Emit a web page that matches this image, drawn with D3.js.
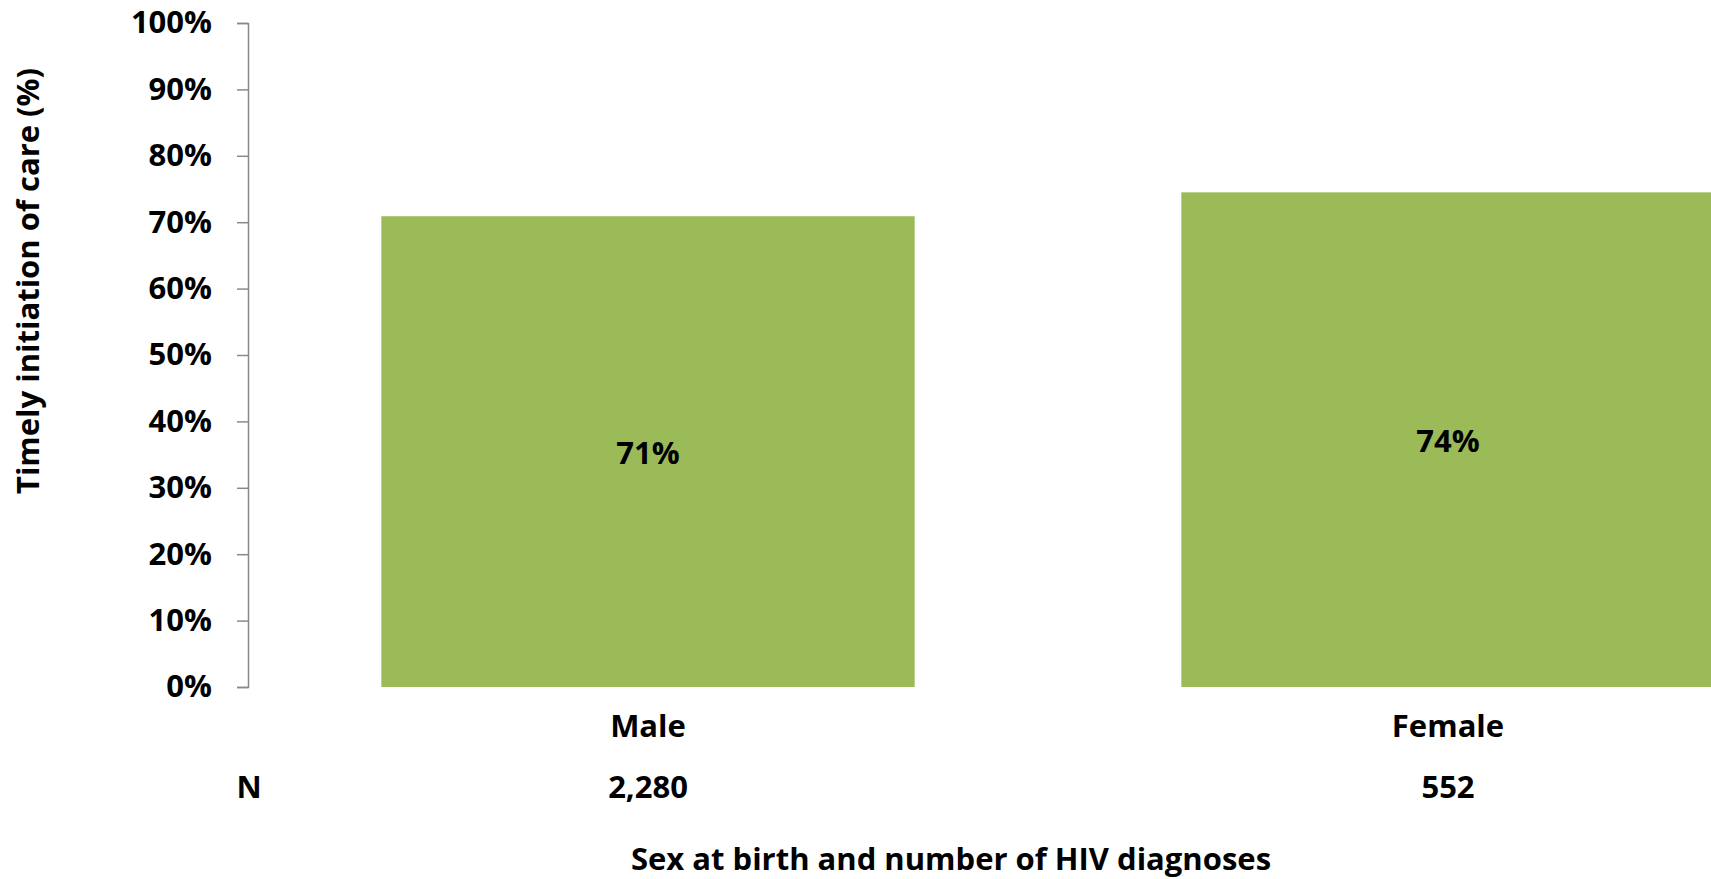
<!DOCTYPE html>
<html>
<head>
<meta charset="utf-8">
<script src="https://cdn.jsdelivr.net/npm/d3@7"></script>
<style>
  html, body { margin: 0; padding: 0; background: #fff; overflow: hidden; }
  svg { display: block; }
  text { font-family: "Open Sans", "Liberation Sans", sans-serif; font-weight: 700; fill: #000; }
</style>
</head>
<body>
<svg id="chart" width="1711" height="879"></svg>
<script>
const categories = ["Male", "Female"];
const values = [70.9, 74.5];
const valueLabels = ["71%", "74%"];
const nCounts = ["2,280", "552"];
const yTicks = [0, 10, 20, 30, 40, 50, 60, 70, 80, 90, 100];
const yTitle = "Timely initiation of care (%)";
const xTitle = "Sex at birth and number of HIV diagnoses";
const nLabel = "N";

const svg = d3.select("#chart");
const m = { left: 248, top: 23, bottom: 687 };
const FONT = "'Open Sans', sans-serif";
const FS = 31;

const x = d3.scaleBand().domain(categories).range([248, 1848]).paddingInner(1/3).paddingOuter(1/6);
const y = d3.scaleLinear().domain([0, 100]).range([m.bottom, m.top]);

// bars
svg.append("g").selectAll("rect").data(categories).join("rect")
  .attr("x", d => x(d))
  .attr("y", (d, i) => y(values[i]))
  .attr("width", x.bandwidth())
  .attr("height", (d, i) => y(0) - y(values[i]))
  .attr("fill", "#9BBB59");

// y axis
const yAxis = d3.axisLeft(y).tickValues(yTicks).tickSize(11).tickPadding(25).tickFormat(d => d + "%");
const gy = svg.append("g").attr("transform", `translate(${m.left},0)`).call(yAxis);
gy.select(".domain").attr("stroke", "#898989").attr("stroke-width", 1.5);
gy.selectAll(".tick line").attr("stroke", "#898989").attr("stroke-width", 1.5);
gy.selectAll(".tick text").style("font-size", FS + "px").style("font-family", FONT).style("font-weight", 700).attr("fill", "#000");

// value labels
svg.append("g").selectAll("text").data(categories).join("text")
  .attr("x", d => x(d) + x.bandwidth() / 2)
  .attr("y", (d, i) => (y(values[i]) + y(0)) / 2)
  .attr("text-anchor", "middle").attr("dominant-baseline", "central")
  .style("font-size", FS + "px")
  .text((d, i) => valueLabels[i]);

// category labels
svg.append("g").selectAll("text").data(categories).join("text")
  .attr("x", d => x(d) + x.bandwidth() / 2)
  .attr("y", 725)
  .attr("text-anchor", "middle").attr("dominant-baseline", "central")
  .style("font-size", FS + "px")
  .text(d => d);

// N counts
svg.append("g").selectAll("text").data(categories).join("text")
  .attr("x", d => x(d) + x.bandwidth() / 2)
  .attr("y", 786)
  .attr("text-anchor", "middle").attr("dominant-baseline", "central")
  .style("font-size", FS + "px")
  .text((d, i) => nCounts[i]);

svg.append("text")
  .attr("x", 249).attr("y", 786)
  .attr("text-anchor", "middle").attr("dominant-baseline", "central")
  .style("font-size", FS + "px")
  .text(nLabel);

// x title
svg.append("text")
  .attr("x", 951).attr("y", 870)
  .attr("text-anchor", "middle")
  .style("font-size", FS + "px")
  .text(xTitle);

// y title
svg.append("text")
  .attr("transform", "translate(27,281) rotate(-90)")
  .attr("text-anchor", "middle").attr("dominant-baseline", "central")
  .style("font-size", FS + "px")
  .text(yTitle);
</script>
</body>
</html>
